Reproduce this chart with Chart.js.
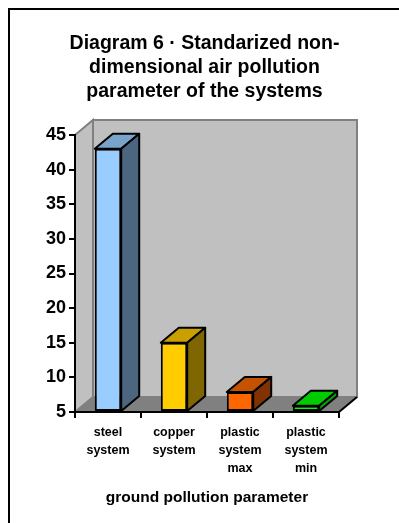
<!DOCTYPE html>
<html>
<head>
<meta charset="utf-8">
<script src="https://cdn.jsdelivr.net/npm/chart.js@4"></script>
<style>
  html, body { margin: 0; padding: 0; background: #fff; }
  canvas { display: block; }
</style>
</head>
<body>
<canvas id="chart" width="399" height="523"></canvas>
<script>
// data
const categories = [
  ['steel', 'system'],
  ['copper', 'system'],
  ['plastic', 'system', 'max'],
  ['plastic', 'system', 'min']
];
const values = [43, 15, 7.9, 5.9];
const yMin = 5;
const yMax = 45;
const yStep = 5;

const titleLines = [
  'Diagram 6 · Standarized non-',
  'dimensional air pollution',
  'parameter of the systems'
];
const xTitle = 'ground pollution parameter';

// colours: front / top / side of each bar
const frontColors = ['#99ccff', '#ffcc00', '#ff6600', '#00ff00'];
const topColors   = ['#7aa3cc', '#c9a000', '#c45200', '#00cc00'];
const sideColors  = ['#4d6680', '#806600', '#803300', '#00a300'];

const FONT = "'Liberation Sans', Arial, sans-serif";
const DX = 18, DY = -15;   // depth of the 3d look

// walls, floor, frame and the top/side faces of the bars
const fake3d = {
  id: 'fake3d',
  beforeDraw(chart) {
    const ctx = chart.ctx;
    const { left: L, right: R, top: T, bottom: B } = chart.chartArea;
    ctx.save();
    // frame (only left and top are inside the picture)
    ctx.fillStyle = '#000';
    ctx.fillRect(8, 8, 2, chart.height);
    ctx.fillRect(8, 8, chart.width, 2);

    ctx.lineWidth = 2;
    ctx.lineJoin = 'miter';
    // back wall
    ctx.fillStyle = '#c0c0c0';
    ctx.strokeStyle = '#808080';
    ctx.fillRect(L + DX, T + DY, R - L, B - T);
    ctx.strokeRect(L + DX, T + DY, R - L, B - T);
    // left wall
    ctx.beginPath();
    ctx.moveTo(L, T);
    ctx.lineTo(L + DX, T + DY);
    ctx.lineTo(L + DX, B + DY);
    ctx.lineTo(L, B);
    ctx.closePath();
    ctx.fill();
    ctx.stroke();
    // floor
    ctx.fillStyle = '#808080';
    ctx.beginPath();
    ctx.moveTo(L, B);
    ctx.lineTo(L + DX, B + DY);
    ctx.lineTo(R + DX, B + DY);
    ctx.lineTo(R, B);
    ctx.closePath();
    ctx.fill();
    ctx.strokeStyle = '#000';
    ctx.beginPath();
    ctx.moveTo(R, B);
    ctx.lineTo(R + DX, B + DY);
    ctx.stroke();
    ctx.restore();
  },
  afterDatasetsDraw(chart) {
    const ctx = chart.ctx;
    const meta = chart.getDatasetMeta(0);
    const bottom = chart.chartArea.bottom;
    ctx.save();
    ctx.lineWidth = 2;
    ctx.lineJoin = 'round';
    ctx.strokeStyle = '#000';
    meta.data.forEach((bar, i) => {
      const p = bar.getProps(['x', 'y', 'base', 'width'], true);
      const y = p.y, base = Math.min(p.base, bottom);
      const l = p.x - p.width / 2, r = p.x + p.width / 2;
      // top
      ctx.fillStyle = topColors[i];
      ctx.beginPath();
      ctx.moveTo(l, y);
      ctx.lineTo(l + DX, y + DY);
      ctx.lineTo(r + DX, y + DY);
      ctx.lineTo(r, y);
      ctx.closePath();
      ctx.fill();
      ctx.stroke();
      // side
      ctx.fillStyle = sideColors[i];
      ctx.beginPath();
      ctx.moveTo(r, y);
      ctx.lineTo(r + DX, y + DY);
      ctx.lineTo(r + DX, base + DY);
      ctx.lineTo(r, base);
      ctx.closePath();
      ctx.fill();
      ctx.stroke();
    });
    ctx.restore();
  }
};

new Chart(document.getElementById('chart'), {
  type: 'bar',
  data: {
    labels: categories,
    datasets: [{
      data: values,
      base: yMin,
      backgroundColor: frontColors,
      borderColor: '#000',
      borderWidth: 2,
      borderSkipped: false,
      barPercentage: 0.4,
      categoryPercentage: 1,
      xAxisID: 'x',
      yAxisID: 'y'
    }]
  },
  options: {
    responsive: false,
    animation: false,
    layout: { padding: { left: 10, right: 0, top: 0, bottom: 0 } },
    plugins: {
      legend: { display: false },
      tooltip: { enabled: false },
      title: {
        display: true,
        text: titleLines,
        color: '#000',
        font: { family: FONT, size: 19.5, weight: 'bold', lineHeight: 24 / 19.5 },
        padding: { top: 32, bottom: 31 }
      }
    },
    scales: {
      x: {
        position: 'bottom',
        grid: { display: true, offset: true, drawOnChartArea: false, color: '#000', lineWidth: 2, tickLength: 6 },
        border: { display: true, color: '#000', width: 2 },
        ticks: {
          color: '#000',
          padding: 6,
          maxRotation: 0,
          autoSkip: false,
          font: { family: FONT, size: 12.5, weight: 'bold', lineHeight: 18 / 12.5 }
        },
        title: {
          display: true,
          text: xTitle,
          color: '#000',
          font: { family: FONT, size: 15.5, weight: 'bold', lineHeight: 1.2 },
          padding: { top: 4, bottom: 16 }
        },
        afterFit(scale) { scale.height = 111; }
      },
      y: {
        position: 'left',
        min: yMin,
        max: yMax,
        ticks: {
          stepSize: yStep,
          color: '#000',
          padding: 3,
          font: { family: FONT, size: 18, weight: 'bold' }
        },
        grid: { display: true, drawOnChartArea: false, color: '#000', lineWidth: 2, tickLength: 6 },
        border: { display: true, color: '#000', width: 2 },
        afterFit(scale) { scale.width = 65; }
      },
      yRight: {
        type: 'linear',
        position: 'right',
        display: true,
        grid: { display: false },
        border: { display: false },
        ticks: { display: false },
        afterFit(scale) { scale.width = 60; }
      }
    }
  },
  plugins: [fake3d]
});
</script>
</body>
</html>
